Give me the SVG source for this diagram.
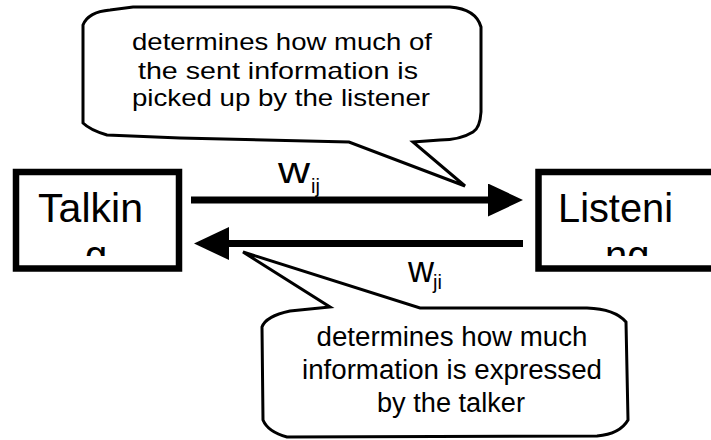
<svg xmlns="http://www.w3.org/2000/svg" width="711" height="440" viewBox="0 0 711 440">
<style>
.box{fill:#fff;stroke:#000;stroke-width:6.5}
.big{font-family:"Liberation Sans",Arial,sans-serif;font-size:40px;fill:#000}
.bub{fill:#fff;stroke:#000;stroke-width:3;stroke-linejoin:miter}
.bt{font-family:"Liberation Sans",Arial,sans-serif;fill:#000;text-anchor:middle}
.w{font-family:"Liberation Sans",Arial,sans-serif;fill:#000}
.arr{stroke:#000;stroke-width:7;fill:none}
</style>
<defs>
<marker id="ah" viewBox="0 0 35 33" refX="0" refY="16.5" markerWidth="35" markerHeight="33" markerUnits="userSpaceOnUse" orient="auto">
<path d="M0,0 L35,16.5 L0,33 Z" fill="#000"/>
</marker>
<clipPath id="clipT"><rect x="19" y="175" width="157" height="81"/></clipPath>
<clipPath id="clipL"><rect x="542" y="175" width="169" height="81"/></clipPath>
</defs>
<rect width="711" height="440" fill="#fff"/>
<g id="talking">
<rect class="box" x="16" y="172" width="163" height="96.5"/>
<g clip-path="url(#clipT)">
<text class="big" x="38" y="222" textLength="105" lengthAdjust="spacingAndGlyphs">Talkin</text>
<text class="big" x="85" y="269">g</text>
</g>
</g>
<g id="listening">
<rect class="box" x="538.5" y="172" width="200" height="96.5"/>
<g clip-path="url(#clipL)">
<text class="big" x="558" y="222" textLength="115" lengthAdjust="spacingAndGlyphs">Listeni</text>
<text class="big" x="605" y="269">ng</text>
</g>
</g>
<g id="connectors">
<line class="arr" x1="191" y1="200" x2="488" y2="200" marker-end="url(#ah)"/>
<line class="arr" x1="523" y1="243.5" x2="229" y2="243.5" marker-end="url(#ah)"/>
</g>
<g id="label-wij">
<text class="w" x="278" y="183" font-size="36" textLength="32" lengthAdjust="spacingAndGlyphs">w</text>
<text class="w" x="311" y="193" font-size="20">ij</text>
</g>
<g id="label-wji">
<text class="w" x="408" y="282" font-size="36" textLength="26" lengthAdjust="spacingAndGlyphs">w</text>
<text class="w" x="433" y="289" font-size="20">ji</text>
</g>
<g id="bubble-top">
<path class="bub" d="M83,25 Q88,12 110,10 L133,7 L450,7 Q476,9 481,27 L481,112 Q480,128 473,132 Q460,140 440,140 L413,142 L465,186 L349,142 L180,138 L107,135 Q90,130 83,123 Z"/>
<text class="bt" x="282" y="50" font-size="24" textLength="300" lengthAdjust="spacingAndGlyphs">determines how much of</text>
<text class="bt" x="278" y="79" font-size="24" textLength="280" lengthAdjust="spacingAndGlyphs">the sent information is</text>
<text class="bt" x="281" y="106" font-size="24" textLength="298" lengthAdjust="spacingAndGlyphs">picked up by the listener</text>
</g>
<g id="bubble-bottom">
<path class="bub" d="M243,252 L420,308 L587,308 Q615,309 626,322 L628,420 Q620,434 597,436 L287,437 Q268,432 263,420 L262,327 Q266,316 290,311 L330,307 Z"/>
<text class="bt" x="452" y="346" font-size="27" textLength="271" lengthAdjust="spacingAndGlyphs">determines how much</text>
<text class="bt" x="452" y="379" font-size="27" textLength="300" lengthAdjust="spacingAndGlyphs">information is expressed</text>
<text class="bt" x="451" y="412" font-size="27" textLength="148" lengthAdjust="spacingAndGlyphs">by the talker</text>
</g>
</svg>
